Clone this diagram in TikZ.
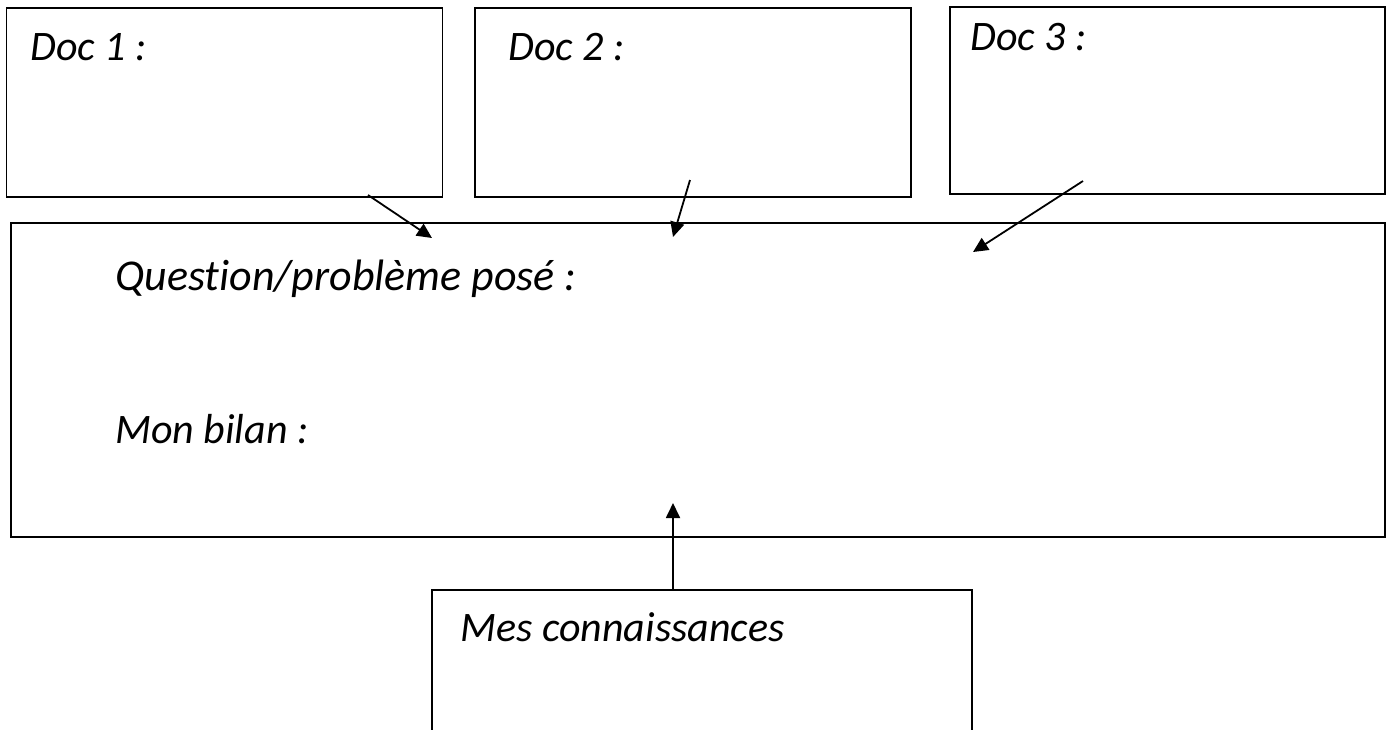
\documentclass[tikz,border=0pt]{standalone}
\usepackage{fontspec}
\setmainfont{Carlito}[Ligatures=NoCommon]
\usetikzlibrary{shapes,arrows.meta,positioning}
\tikzset{basic/.style={draw,line width=1.8pt,rectangle,inner sep=0pt,outer sep=0pt}}
\tikzset{docbox/.style={basic,minimum width=436pt,minimum height=189pt}}
\tikzset{arrow/.style={draw,line width=1.8pt,-{Triangle[length=15pt,width=14pt]}}}
\tikzset{msg/.style={anchor=base west,inner sep=0pt,font=\fontsize{42}{50}\selectfont\itshape}}

\begin{document}
\begin{tikzpicture}[x=1pt,y=-1pt]
    \useasboundingbox (0,0) rectangle (1386,729);

    \node[docbox] (doc1) at (224.5,102.5) {};
    \node[docbox] (doc2) at (693,102.5) {};
    \node[docbox,minimum width=435pt,minimum height=187pt] (doc3) at (1167.5,100.5) {};
    \node[basic,minimum width=1374pt,minimum height=314pt] (bilan) at (698,380) {};
    \node[basic,minimum width=540pt,minimum height=190pt] (connaissances) at (702,685) {};

     \node[msg] (m1) at (30,60) {Doc 1 :};
     \node[msg] (m2) at (508,60) {Doc 2 :};
     \node[msg] (m3) at (970,50) {Doc 3 :};
     \node[msg,font=\fontsize{44}{50}\selectfont\itshape] (q) at (115,290) {Question/problème posé :};
     \node[msg] (b) at (115,443) {Mon bilan :};
     \node[msg] (k) at (460,641) {Mes connaissances};

     \coordinate (s1) at (368,195);
     \coordinate (t1) at (432,238);
     \coordinate (s2) at (690,180);
     \coordinate (t2) at (673,237);
     \coordinate (s3) at (1083,181);
     \coordinate (t3) at (973,252);
     \coordinate (t4) at (673,503);

        \path[arrow] (s1) -- (t1);
        \path[arrow] (s2) -- (t2);
        \path[arrow] (s3) -- (t3);
        \path[arrow] (connaissances.north -| t4) -- (t4);
  \end{tikzpicture}
\end{document}
